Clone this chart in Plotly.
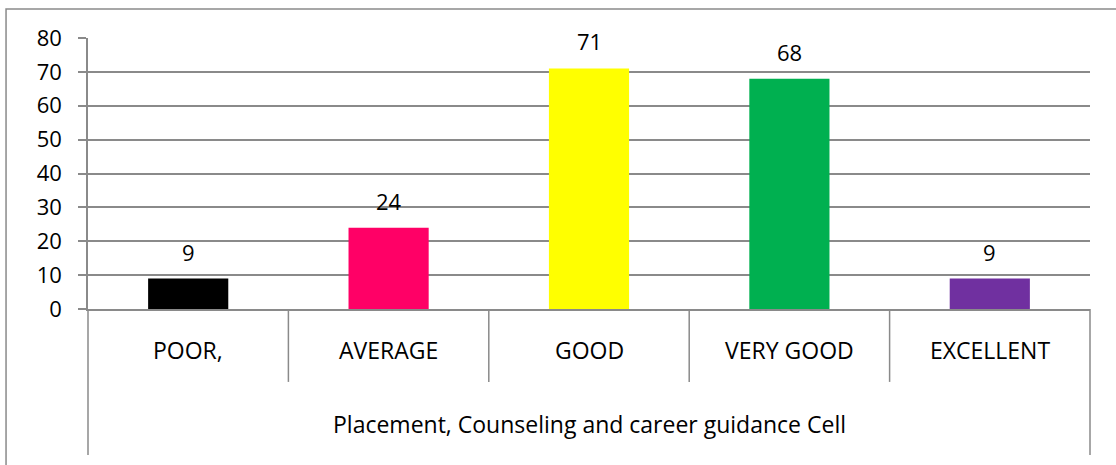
import plotly.graph_objects as go

categories = ['POOR,', 'AVERAGE', 'GOOD', 'VERY GOOD', 'EXCELLENT']
counts = [9, 24, 71, 68, 9]
bar_colors = ['#000000', '#FF0066', '#FFFF00', '#00B050', '#7030A0']
group_label = 'Placement, Counseling and career guidance Cell'
y_ticks = [0, 10, 20, 30, 40, 50, 60, 70, 80]

FONT = 'Open Sans'
GREY = '#8a8a8a'

fig = go.Figure()

fig.add_trace(go.Bar(
    x=categories,
    y=counts,
    width=0.4,
    marker=dict(color=bar_colors, line=dict(width=0)),
    hovertemplate='%{x}: %{y}<extra></extra>'
))

# data labels above the bars
for cat, val in zip(categories, counts):
    fig.add_annotation(
        x=cat, y=val, yshift=27,
        text=str(val), showarrow=False,
        yanchor='middle',
        font=dict(family=FONT, size=22, color='#000')
    )

# first level category labels
for cat in categories:
    fig.add_annotation(
        x=cat, y=-0.153, yref='paper',
        text=cat, showarrow=False,
        yanchor='middle',
        font=dict(family=FONT, size=23, color='#000')
    )

# second level label
fig.add_annotation(
    x=0.5, xref='paper', y=-0.424, yref='paper',
    text=group_label, showarrow=False,
    yanchor='middle',
    font=dict(family=FONT, size=23, color='#000')
)

# category table lines under the axis
n = len(categories)
for k in range(n + 1):
    outer = k == 0 or k == n
    fig.add_shape(
        type='line', xref='paper', yref='paper',
        x0=k / n, x1=k / n, y0=0, y1=-0.539 if outer else -0.269,
        line=dict(color=GREY, width=1.5)
    )

# chart border (right and bottom edges run off the page)
fig.add_shape(
    type='rect', xref='paper', yref='paper',
    x0=-0.0818, x1=1.04, y0=-0.6, y1=1.107,
    line=dict(color=GREY, width=1.5)
)

fig.update_layout(
    width=1116, height=465,
    margin=dict(l=88, r=26, t=38, b=156),
    plot_bgcolor='white', paper_bgcolor='white',
    showlegend=False,
    font=dict(family=FONT, color='#000')
)
fig.update_xaxes(
    showticklabels=False, ticks='', showgrid=False,
    showline=True, linecolor=GREY, linewidth=1.5,
    range=[-0.5, n - 0.5]
)
fig.update_yaxes(
    range=[0, 80], tickvals=y_ticks,
    showgrid=True, gridcolor=GREY, gridwidth=1.5,
    zeroline=False,
    showline=True, linecolor=GREY, linewidth=1.5,
    ticks='outside', ticklen=8, tickcolor=GREY, tickwidth=1.5,
    ticklabelstandoff=12,
    tickfont=dict(family=FONT, size=22, color='#000')
)

fig.write_html('out.html', config={'displayModeBar': False},
               post_script="document.body.style.margin='0';")
